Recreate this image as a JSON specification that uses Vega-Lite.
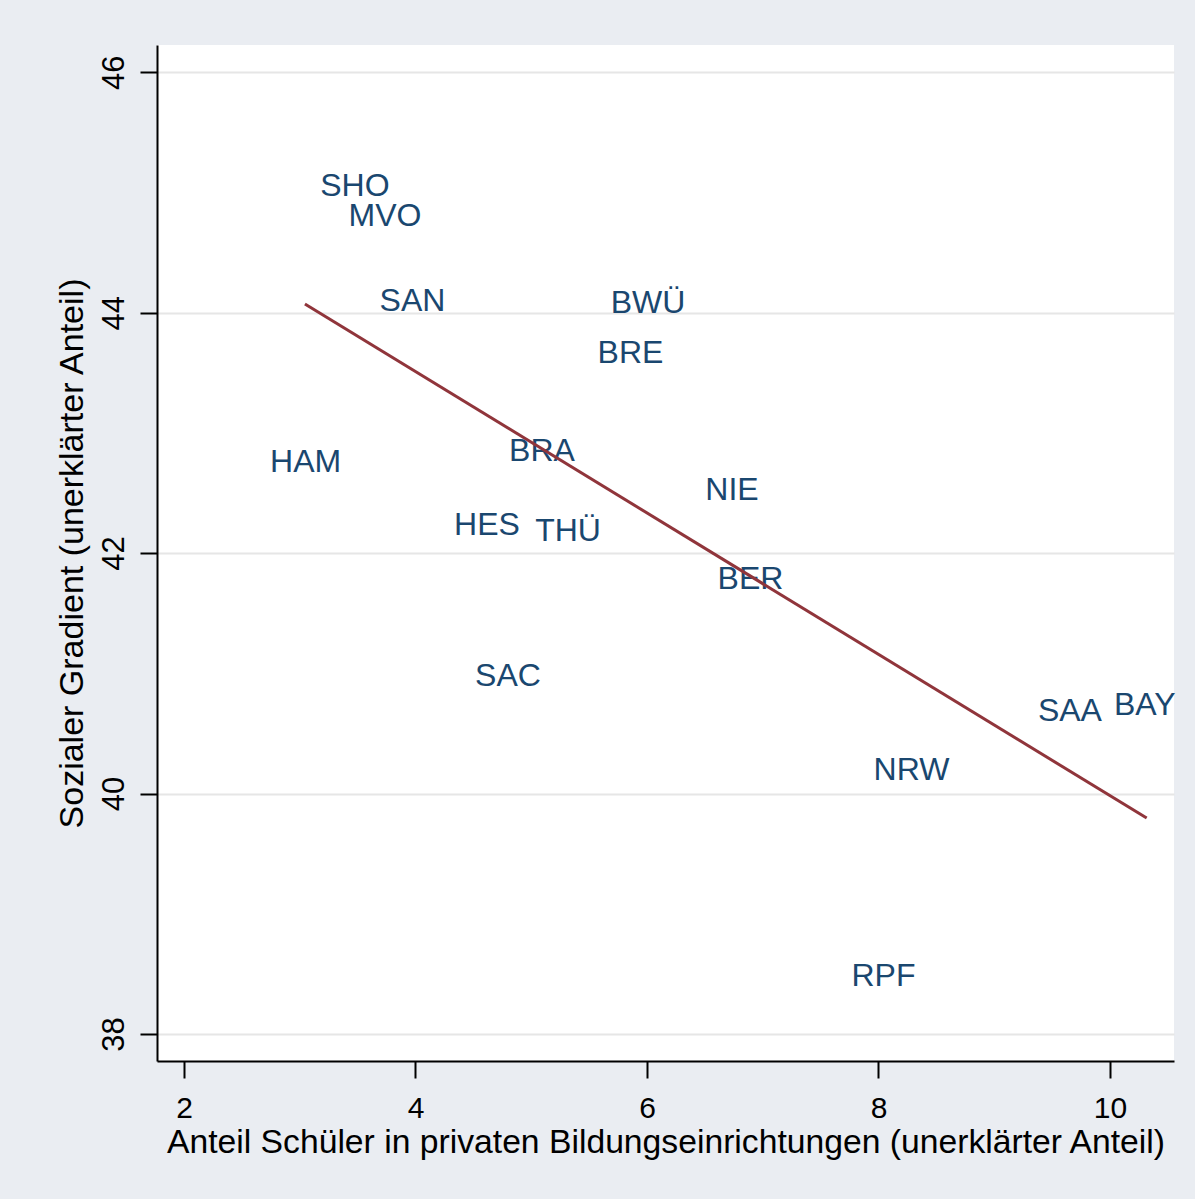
{
  "$schema": "https://vega.github.io/schema/vega-lite/v6.json",
  "width": 1017,
  "height": 1016,
  "autosize": "none",
  "padding": {"left": 157, "top": 45, "right": 21, "bottom": 138},
  "background": "#eaedf2",
  "config": {
    "view": {"fill": "white", "stroke": null},
    "font": "Liberation Sans"
  },
  "datasets": {
    "laender": [
      {"land": "SHO", "privat": 3.477, "gradient": 45.062},
      {"land": "MVO", "privat": 3.737, "gradient": 44.813},
      {"land": "SAN", "privat": 3.974, "gradient": 44.106},
      {"land": "BWÜ", "privat": 6.009, "gradient": 44.089},
      {"land": "BRE", "privat": 5.857, "gradient": 43.677},
      {"land": "HAM", "privat": 3.051, "gradient": 42.770},
      {"land": "BRA", "privat": 5.093, "gradient": 42.862},
      {"land": "NIE", "privat": 6.734, "gradient": 42.537},
      {"land": "HES", "privat": 4.618, "gradient": 42.246},
      {"land": "THÜ", "privat": 5.318, "gradient": 42.192},
      {"land": "BER", "privat": 6.894, "gradient": 41.789},
      {"land": "SAC", "privat": 4.799, "gradient": 40.990},
      {"land": "SAA", "privat": 9.654, "gradient": 40.695},
      {"land": "BAY", "privat": 10.300, "gradient": 40.749},
      {"land": "NRW", "privat": 8.285, "gradient": 40.200},
      {"land": "RPF", "privat": 8.043, "gradient": 38.494}
    ],
    "fit": [
      {"privat": 3.045, "gradient": 44.072},
      {"privat": 10.317, "gradient": 39.796}
    ]
  },
  "layer": [
    {
      "data": {"name": "laender"},
      "mark": {"type": "text", "fontSize": 32, "color": "#1a476f", "align": "center", "baseline": "middle", "dy": 1},
      "encoding": {
        "x": {
          "field": "privat", "type": "quantitative",
          "scale": {"domain": [1.767, 10.553], "nice": false, "zero": false},
          "axis": {
            "title": "Anteil Schüler in privaten Bildungseinrichtungen (unerklärter Anteil)",
            "values": [2, 4, 6, 8, 10], "format": "d",
            "grid": false,
            "domainColor": "black", "domainWidth": 2,
            "tickColor": "black", "tickWidth": 2, "tickSize": 17,
            "labelFontSize": 30, "labelColor": "black", "labelPadding": 15,
            "titleFontSize": 33.7, "titleFontWeight": "normal", "titleColor": "black", "titlePadding": 2
          }
        },
        "y": {
          "field": "gradient", "type": "quantitative",
          "scale": {"domain": [37.775, 46.227], "nice": false, "zero": false},
          "axis": {
            "title": "Sozialer Gradient (unerklärter Anteil)",
            "values": [38, 40, 42, 44, 46], "format": "d",
            "grid": true, "gridColor": "#e6e6e6", "gridWidth": 2,
            "domainColor": "black", "domainWidth": 2,
            "tickColor": "black", "tickWidth": 2, "tickSize": 17,
            "labelFontSize": 31, "labelColor": "black", "labelPadding": 10,
            "labelAngle": -90, "labelAlign": "center", "labelBaseline": "bottom",
            "titleFontSize": 34, "titleFontWeight": "normal", "titleColor": "black", "titlePadding": 9
          }
        },
        "text": {"field": "land", "type": "nominal"}
      }
    },
    {
      "data": {"name": "fit"},
      "mark": {"type": "line", "color": "#90353b", "strokeWidth": 3},
      "encoding": {
        "x": {"field": "privat", "type": "quantitative"},
        "y": {"field": "gradient", "type": "quantitative"}
      }
    }
  ]
}
